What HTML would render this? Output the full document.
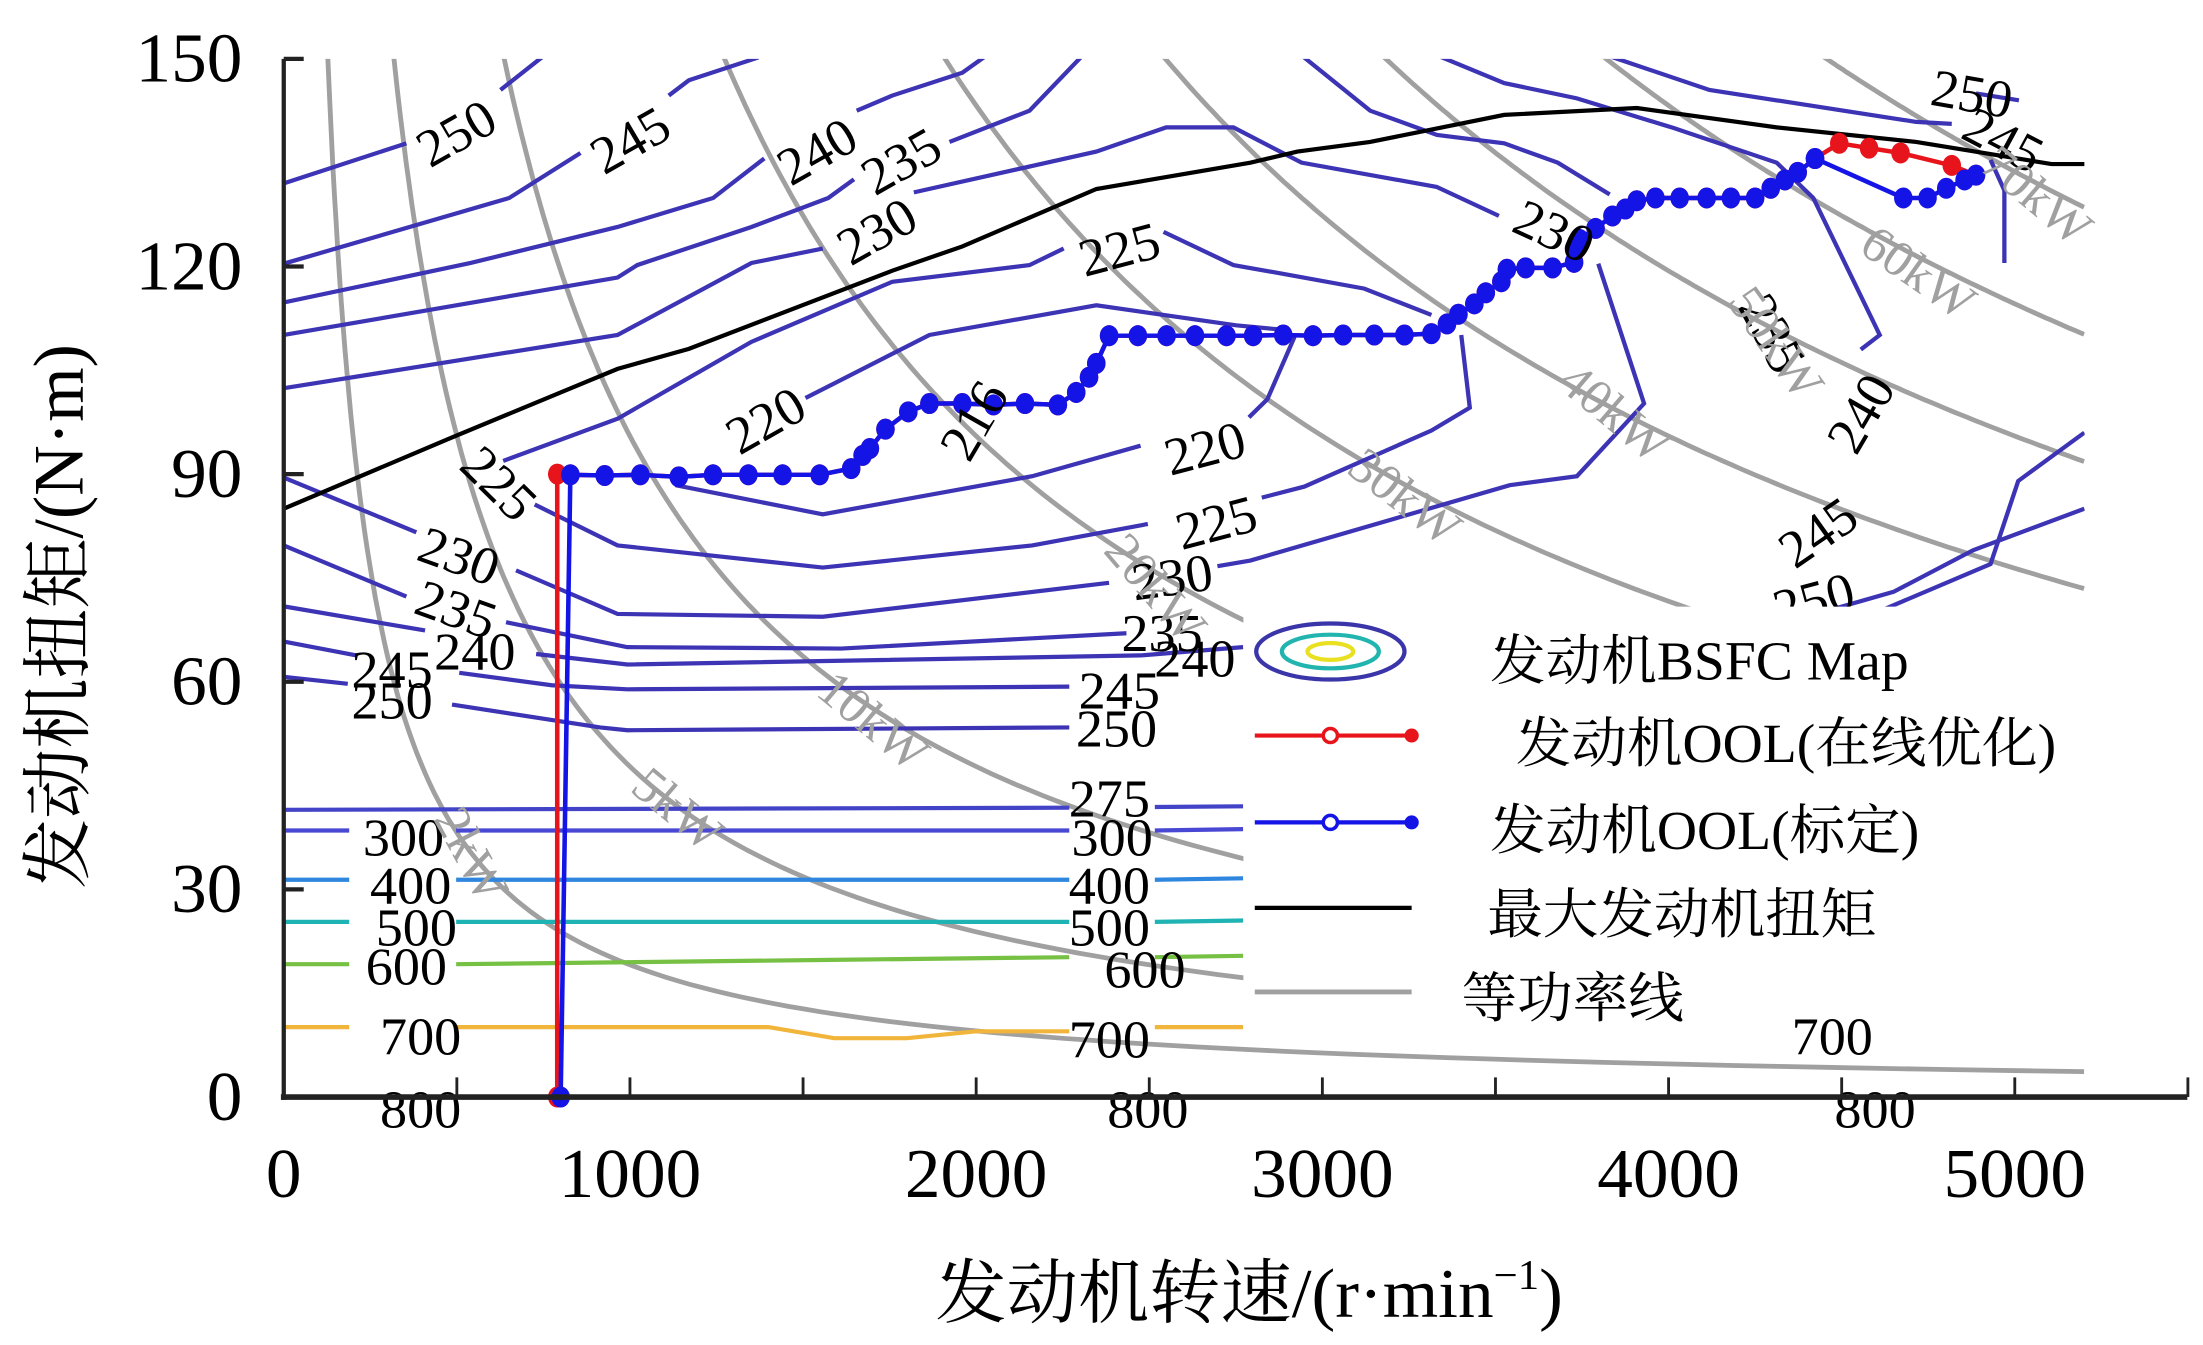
<!DOCTYPE html>
<html><head><meta charset="utf-8"><style>
html,body{margin:0;padding:0;background:#fff;}
svg{display:block;}
text{font-family:"Liberation Serif","Noto Serif CJK SC","Noto Sans CJK SC",serif;}
</style></head><body>
<svg id="chart" width="2203" height="1345" viewBox="0 0 1545 960" preserveAspectRatio="none" xmlns="http://www.w3.org/2000/svg">
<defs><clipPath id="plotClip"><rect x="199" y="42" width="1263" height="741"/></clipPath></defs>
<g id="gIso" clip-path="url(#plotClip)"></g>
<g id="gContours" clip-path="url(#plotClip)"></g>
<g id="gMax"></g>
<g id="gOol"></g>
<g id="gLabels"></g>
<rect x="872" y="433" width="630" height="312" fill="#fff"/>
<g id="gLabelsTop"></g>
<g id="gLegend">
  <g>
    <ellipse cx="933" cy="465" rx="52" ry="20" fill="none" stroke="#3a35a8" stroke-width="3"/>
    <ellipse cx="933" cy="465" rx="34" ry="12" fill="none" stroke="#22b5b0" stroke-width="3"/>
    <ellipse cx="933" cy="465" rx="16" ry="6" fill="none" stroke="#e8e020" stroke-width="3"/>
    <text x="1045" y="485" font-size="39">发动机BSFC Map</text>
  </g>
  <g>
    <line x1="880" y1="525" x2="990" y2="525" stroke="#e8141c" stroke-width="3"/>
    <circle cx="933" cy="525" r="5" fill="#fff" stroke="#e8141c" stroke-width="2.5"/>
    <circle cx="990" cy="525" r="5" fill="#e8141c"/>
    <text x="1063" y="544" font-size="39">发动机OOL(在线优化)</text>
  </g>
  <g>
    <line x1="880" y1="587" x2="990" y2="587" stroke="#1414e6" stroke-width="3"/>
    <circle cx="933" cy="587" r="5" fill="#fff" stroke="#1414e6" stroke-width="2.5"/>
    <circle cx="990" cy="587" r="5" fill="#1414e6"/>
    <text x="1045" y="606" font-size="39">发动机OOL(标定)</text>
  </g>
  <g>
    <line x1="880" y1="648" x2="990" y2="648" stroke="#000" stroke-width="3"/>
    <text x="1043" y="666" font-size="39">最大发动机扭矩</text>
  </g>
  <g>
    <line x1="880" y1="708" x2="990" y2="708" stroke="#a0a0a0" stroke-width="3.5"/>
    <text x="1025" y="726" font-size="39">等功率线</text>
  </g>
</g>
<g id="gAxes"></g>
<text x="876" y="940" font-size="50" text-anchor="middle">发动机转速/(r·min<tspan font-size="30" dy="-20">−1</tspan><tspan dy="20">)</tspan></text>
<text transform="translate(58,440) rotate(-90)" font-size="50" text-anchor="middle">发动机扭矩/(N·m)</text>
</svg>
<script>
// ---- data ----
const xTicks = [0, 1000, 2000, 3000, 4000, 5000];
const xMinorTicks = [500, 1000, 1500, 2000, 2500, 3000, 3500, 4000, 4500, 5000, 5500];
const yTicks = [0, 30, 60, 90, 120, 150];
const isoPowers = [2, 5, 10, 20, 30, 40, 50, 60, 70];
const isoLabels = ["2kW","5kW","10kW","20kW","30kW","40kW","50kW","60kW","70kW"];
const maxTorque = [[0,85],[486,95.3],[964,105.2],[1170,108.1],[1758,119.4],[1960,122.9],[2347,131.2],[2792,135],[2928,136.6],[3138,138],[3525,141.9],[3908,142.9],[4312,140.1],[4715,138],[5106,134.8],[5201,134.8]];
const oolCommon = [[828,89.9],[927,89.8],[1030,89.9],[1141,89.6],[1240,89.9],[1342,89.9],[1441,89.9],[1548,89.9],[1639,90.8],[1672,92.7],[1693,93.7],[1738,96.5],[1804,99],[1865,100.2],[1960,100.2],[2050,100],[2141,100.2],[2236,100],[2289,101.8],[2326,104],[2347,106],[2384,110],[2467,110],[2550,110],[2632,110],[2723,110],[2800,110],[2887,110.1],[2973,110],[3060,110.1],[3150,110.1],[3237,110.1],[3315,110.3],[3360,111.7],[3393,113.1],[3439,114.6],[3472,116.2],[3517,117.8],[3533,119.6],[3587,119.8],[3665,119.8],[3727,120.6],[3727,122.6],[3743,123.9],[3789,125.5],[3838,127.3],[3875,128.3],[3908,129.5],[3962,129.9],[4032,129.9],[4110,129.9],[4180,129.9],[4250,129.9],[4295,131.3],[4336,132.5],[4373,133.6],[4423,135.6]];
const oolRedStart = [[790,0],[790,90]];
const oolRedEnd = [[4493,137.8],[4579,137.1],[4670,136.4],[4818,134.6],[4888,133.2]];
const oolBlueStart = [[800,0]];
const oolBlueEnd = [[4678,129.9],[4748,129.9],[4802,131.3],[4855,132.5],[4888,133.2]];
const c250Top = [[[0,132],[354,137.8]],[[626,145.5],[745,150.2]]];
const c245Top = [[[0,120.4],[651,129.9],[857,136.4]],[[1112,144.7],[1170,146.9],[1371,150.2]]];
const c240Top = [[[0,114.8],[540,120.5],[964,125.7],[1240,129.9],[1388,135.6]],[[1655,142.5],[1758,144.7],[1960,148],[2022,150.2]]];
const c235Top = [[[0,110.1],[964,118.4],[1021,120.2],[1351,125.7],[1573,129.9],[1647,132.6]],[[1923,138],[2154,142.5],[2302,150.2]]];
const c230Top = [[[0,102.4],[964,110.1],[1351,120.5],[1557,122.6]],[[1820,130.7],[2347,136.6],[2549,140.1],[2743,140.1],[2878,136.6],[2940,135],[3330,131.5],[3510,127.3]]];
const c225Top = [[[634,91.9],[964,98],[1351,109.1],[1758,117.8],[2154,120.2],[2253,122.6]],[[2541,125],[2743,120.2],[2878,119],[3121,116.8],[3315,113]]];
const c220Top = [[[1507,101],[1865,110.1],[2347,114.4],[2751,111.5],[2878,110.9]]];
const c220Low = [[[1132,88.4],[1557,84.2],[2162,89.7],[2475,94.1]],[[2788,98.2],[2841,100.8],[2920,109.9]]];
const c225Low = [[[725,85.6],[964,79.7],[1557,76.5],[2162,79.7],[2496,82.8]],[[2825,86.6],[2948,88.2],[3315,96.3],[3426,99.6],[3401,110.1]]];
const c230Low = [[[0,89.5],[383,81.6]],[[671,76.1],[964,69.8],[1557,69.4],[2384,74.3]],[[2697,76.7],[2792,77.5],[3541,88.4],[3735,89.7],[3929,100.2],[3797,120.4]]];
const c235Low = [[[0,79.7],[354,72.3]],[[642,68.6],[992,65],[1610,64.8],[2434,67]]];
const c240Low = [[[0,70.9],[408,67.4]],[[729,64],[992,62.5],[2475,63.8],[2771,65]]];
const c245Low = [[[0,65.8],[210,63.8]],[[507,61.3],[774,59.5],[992,58.9],[2269,59.3]]];
const c250Low = [[[0,60.7],[185,59.7]],[[486,56.7],[914,53.4],[992,53],[2269,53.4]]];
const cRight1 = [[[2940,150.5],[3138,142.5],[3331,139],[3525,137.8],[3680,135],[3830,130.4]]];
const cRight2 = [[[3331,150.5],[3525,146.5],[3735,144.3],[4015,140],[4312,135],[4418,129.9],[4610,110.1],[4555,108]]];
const cRight3 = [[[3822,150.5],[4118,145.5],[4715,140.9],[4818,140.6]],[[4888,145],[5012,144]],[[4930,135.4],[4970,131],[4970,120.5]]];
const cRight4 = [[[3830,67],[3700,62]]];
const cRight5 = [[[5201,85],[4880,79],[4650,73],[4300,68]]];
const cRight6 = [[[5201,96],[5010,89],[4930,77],[4600,70]]];
const hLevels = [275, 300, 400, 500, 600, 700];
const hTorques = [41.5, 38.5, 31.4, 25.3, 19.2, 10.1];
const hColors = ["#4343c8","#4848d4","#2e86de","#1fb3b3","#76c043","#f2b53c"];

// ---- axis functions ----
const X = r => 199 + r * 0.2428;
const Y = t => 783 - t * 4.94;
const NS = "http://www.w3.org/2000/svg";
function mk(tag, attrs, parent){ const e=document.createElementNS(NS,tag); for(const k in attrs) e.setAttribute(k,attrs[k]); parent.appendChild(e); return e; }
const ptsStr = arr => arr.map(p => X(p[0]).toFixed(1)+","+Y(p[1]).toFixed(1)).join(" ");

const gIso = document.getElementById("gIso");
isoPowers.forEach((P,i)=>{
  const pts=[]; const n0 = 9550*P/152;
  for(let k=0;k<=120;k++){ const n = n0*Math.pow(5200/n0, k/120); pts.push([n, 9550*P/n]); }
  const el = mk("polyline",{points:ptsStr(pts),fill:"none",stroke:"#a0a0a0","stroke-width":3.4},gIso);
  
  
});

const gC = document.getElementById("gContours");
const contourSets = [c250Top,c245Top,c240Top,c235Top,c230Top,c225Top,c220Top,c220Low,c225Low,c230Low,c235Low,c240Low,c245Low,c250Low,cRight1,cRight2,cRight3,cRight4,cRight5,cRight6];
contourSets.forEach(set=>set.forEach(seg=>{
  const el = mk("polyline",{points:ptsStr(seg),fill:"none",stroke:"#3c34b4","stroke-width":3},gC);
  
  
}));
hLevels.forEach((lv,i)=>{
  const t = hTorques[i];
  let segs;
  if(lv===275) segs=[[[0,t],[2269,t+0.3]],[[2516,t+0.4],[2771,t+0.5]]];
  else if(lv===600) segs=[[[0,t],[189,t]],[[498,t],[1550,t+0.6],[2269,t+1]],[[2516,t+1],[2771,t+1.2]]];
  else if(lv===700) segs=[[[0,t],[189,t]],[[498,t],[1400,t],[1590,t-1.6],[1800,t-1.6],[2000,t-0.6],[2269,t-0.6]],[[2516,t],[2771,t]]];
  else segs=[[[0,t],[189,t]],[[498,t],[2269,t]],[[2516,t],[2771,t+0.2]]];
  segs.forEach(s=>{
    const el = mk("polyline",{points:ptsStr(s),fill:"none",stroke:hColors[i],"stroke-width":3},gC);
    
    
  });
});

const gMax = document.getElementById("gMax");
const mt = mk("polyline",{points:ptsStr(maxTorque),fill:"none",stroke:"#000","stroke-width":3},gMax);



const gO = document.getElementById("gOol");
function drawOol(series, color, name){
  const l = mk("polyline",{points:ptsStr(series),fill:"none",stroke:color,"stroke-width":3.2},gO);
  
  
  series.forEach(p=>{
    const c = mk("ellipse",{cx:X(p[0]),cy:Y(p[1]),rx:6.5,ry:7.5,fill:color},gO);
    
    
  });
}
drawOol(oolRedStart.concat(oolCommon, oolRedEnd), "#e8141c", "ool-online");
drawOol(oolBlueStart.concat(oolCommon, [[4423,135.6]], oolBlueEnd), "#1414e6", "ool-calibrated");

const gL = document.getElementById("gLabels");
const gLT = document.getElementById("gLabelsTop");
const contourLabels = [
 ["250",320,95,-30],["245",442,100,-30],["240",573,108,-30],["235",632,115,-30],["230",615,165,-30],["225",785,178,-15],
 ["250",1383,67,10],["245",1405,100,28],["230",1090,165,25],["235",1243,238,62],["240",1305,295,-60],["245",1275,380,-35],["250",1272,428,-15],
 ["220",537,300,-30],["216",683,300,-60],["220",845,320,-15],["225",853,373,-15],["230",822,412,-8],["235",815,452,0],["240",838,470,0],["245",785,493,0],["250",783,520,0],
 ["275",778,570,0],["300",780,598,0],["400",778,632,0],["500",778,662,0],["600",803,692,0],["700",778,742,0],["800",805,792,0],
 ["225",350,345,45],["230",322,397,20],["235",320,435,20],["240",333,465,0],["245",275,478,0],["250",275,500,0],
 ["300",283,598,0],["400",288,632,0],["500",292,662,0],["600",285,690,0],["700",295,740,0],["800",295,792,0],["700",1285,740,0],["800",1315,792,0]
];
contourLabels.forEach(d=>{
  const front = d[1] > 872 && d[2] > 700;
  const t = mk("text",{x:d[1],y:d[2],"font-size":38,"text-anchor":"middle","dominant-baseline":"central",transform:`rotate(${d[3]} ${d[1]} ${d[2]})`}, front ? gLT : gL);
  t.textContent = d[0];
  
  
});
const isoLabelPos = [[330,610,62],[475,578,40],[612,515,40],[810,420,50],[985,355,38],[1132,295,40],[1245,245,55],[1345,195,35],[1428,140,40]];
isoLabels.forEach((s,i)=>{
  const p = isoLabelPos[i];
  const t = mk("text",{x:p[0],y:p[1],"font-size":36,fill:"#a0a0a0","text-anchor":"middle","dominant-baseline":"central",transform:`rotate(${p[2]} ${p[0]} ${p[1]})`},gL);
  t.textContent = s;
  
  
});

const gA = document.getElementById("gAxes");
let e;
e = mk("line",{x1:199,y1:Y(150),x2:199,y2:785,stroke:"#222","stroke-width":3},gA);


e = mk("line",{x1:197,y1:783,x2:1534,y2:783,stroke:"#222","stroke-width":4},gA);


yTicks.forEach(v=>{
  const tk = mk("line",{x1:199,y1:Y(v),x2:213,y2:Y(v),stroke:"#222","stroke-width":3},gA);
  
  
  const t = mk("text",{x:170,y:Y(v),"font-size":50,"text-anchor":"end","dominant-baseline":"central"},gA);
  t.textContent = v;
  
  
});
xMinorTicks.forEach(v=>{
  const tk = mk("line",{x1:X(v),y1:783,x2:X(v),y2:769,stroke:"#222","stroke-width":2},gA);
  
  
});
xTicks.forEach(v=>{
  const t = mk("text",{x:X(v),y:838,"font-size":50,"text-anchor":"middle","dominant-baseline":"central"},gA);
  t.textContent = v;
  
  
});
</script>
</body></html>
